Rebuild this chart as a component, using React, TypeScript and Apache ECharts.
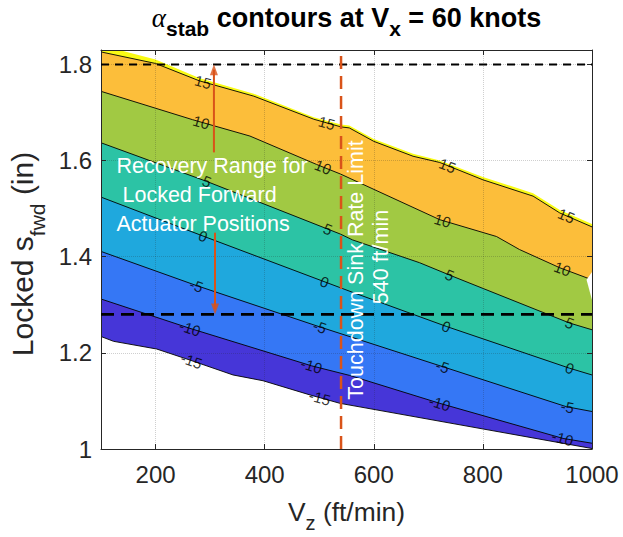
import React, { useEffect, useRef } from "react";
import * as echarts from "echarts";

const FONT = '"Liberation Sans", Arial, Helvetica, sans-serif';
const SERIF = '"Liberation Serif", "Times New Roman", serif';

// ---- axes ----
const xMin = 100;
const xMax = 1000;
const yMin = 1.0;
const yMax = 1.83;

// ---- contour boundaries (Vz ft/min, s_fwd in) ----
const edgeTop: number[][] = [[100, 1.84], [200, 1.81], [280, 1.772], [380, 1.739], [490, 1.69], [540, 1.675], [555, 1.673], [600, 1.645], [672, 1.614], [721, 1.6], [800, 1.566], [892, 1.532], [941, 1.497], [1000, 1.468]];
const c15: number[][] = [[100, 1.826], [200, 1.802], [280, 1.766], [380, 1.734], [490, 1.686], [540, 1.67], [555, 1.668], [600, 1.64], [672, 1.609], [721, 1.596], [800, 1.56], [892, 1.526], [941, 1.491], [1000, 1.462]];
const c10: number[][] = [[100, 1.744], [268, 1.685], [373, 1.651], [495, 1.592], [539, 1.572], [721, 1.477], [825, 1.442], [867, 1.415], [941, 1.377], [1000, 1.352]];
const c5: number[][] = [[100, 1.637], [293, 1.557], [539, 1.447], [561, 1.435], [684, 1.3875], [745, 1.359], [959, 1.262], [1000, 1.248]];
const c0: number[][] = [[100, 1.524], [287, 1.443], [507, 1.349], [561, 1.326], [733, 1.255], [959, 1.168], [1000, 1.154]];
const cm5: number[][] = [[100, 1.411], [275, 1.34], [501, 1.254], [727, 1.171], [953, 1.088], [1000, 1.078]];
const cm10: number[][] = [[100, 1.312], [263, 1.251], [486, 1.173], [556, 1.153], [721, 1.095], [947, 1.022], [1000, 1.012]];
const cm15: number[][] = [[100, 1.234], [123, 1.224], [202, 1.208], [263, 1.185], [342, 1.154], [397, 1.142], [483, 1.1125], [538, 1.095], [1000, 1.001]];
const notch: number[][] = [[1000, 1.368], [990, 1.352], [1000, 1.31]];

const contourValues = [15, 10, 5, 0, -5, -10, -15];
const contourLines = [c15, c10, c5, c0, cm5, cm10, cm15];
// fill below each boundary (top edge first)
const bandColors = ["#f9fb15", "#fcbe3a", "#a1c943", "#2cc3a5", "#1fa8dd", "#3577f5", "#4636d8", "#ffffff"];

// contour label positions (x along each contour)
const labelX15 = [287, 514, 735, 953];
const labelX10 = [284, 507, 726, 946];
const labelX5 = [294, 516, 739, 959];
const labelX0 = [287, 510, 733, 959];
const labelXm5 = [275, 501, 726, 955];
const labelXm10 = [263, 486, 721, 946];
const labelXm15 = [266, 501];
const labelXs = [labelX15, labelX10, labelX5, labelX0, labelXm5, labelXm10, labelXm15];

// reference lines / arrows
const refLinesY = [1.8, 1.28];
const sinkRateLimit = 540;
const arrowUp = [[307, 1.617], [307, 1.789]];
const arrowDown = [[309, 1.45], [309, 1.291]];

const ORANGE = "#d95319";

let measureCtx: CanvasRenderingContext2D | null = null;
function measure(text: string, size: number, weight = "normal", style = "normal", family = FONT) {
  if (!measureCtx) measureCtx = document.createElement("canvas").getContext("2d");
  if (!measureCtx) return text.length * size * 0.55;
  measureCtx.font = `${style} ${weight} ${size}px ${family}`;
  return measureCtx.measureText(text).width;
}

type Piece = { text: string; size: number; weight?: string; style?: string; family?: string; shift?: number; color?: string };
function rowPieces(pieces: Piece[], color: string) {
  const widths = pieces.map((p) => measure(p.text, p.size, p.weight || "normal", p.style || "normal", p.family || FONT));
  const total = widths.reduce((a, b) => a + b, 0);
  let x = -total / 2;
  return pieces.map((p, i) => {
    const k = p.family === SERIF ? 0.3375 : 0.3465;
    const el = {
      type: "text",
      x,
      y: (p.shift || 0) - k * p.size,
      style: {
        text: p.text,
        fontSize: p.size,
        fontWeight: p.weight || "normal",
        fontStyle: p.style || "normal",
        fontFamily: p.family || FONT,
        fill: p.color || color,
        textAlign: "left",
        textVerticalAlign: "middle",
      },
    };
    x += widths[i];
    return el;
  });
}

function yOnLine(line: number[][], x: number) {
  for (let i = 0; i < line.length - 1; i++) {
    const a = line[i];
    const b = line[i + 1];
    if (x >= a[0] && x <= b[0]) {
      const t = (x - a[0]) / (b[0] - a[0]);
      return { y: a[1] + t * (b[1] - a[1]), a, b };
    }
  }
  const a = line[line.length - 2];
  const b = line[line.length - 1];
  return { y: b[1], a, b };
}

function buildOption() {
  const fillLines = [edgeTop, ...contourLines];
  const fills = fillLines.map((line, i) => ({
    type: "line",
    data: line,
    symbol: "none",
    silent: true,
    z: 2 + i,
    lineStyle: { color: "#000", width: i === 0 ? 0 : 0.9, opacity: i === 0 ? 0 : 1 },
    areaStyle: { color: bandColors[i], opacity: 1, origin: "start" },
  }));

  const axisLineStyle = { color: "#262626", width: 1 };
  const grid = { left: 101, right: 31, top: 50, bottom: 88 };

  const xLabelFmt = (v: number) => (v % 200 === 0 ? String(v) : "");
  const yLabelFmt = (v: number) => (Math.abs(v * 5 - Math.round(v * 5)) < 1e-6 ? String(+v.toFixed(1)) : "");
  const split = { show: true, lineStyle: { type: "dotted", color: "rgba(38,38,38,0.22)", width: 1 } };

  const graphic: any[] = [];
  graphic.push({
    type: "group",
    x: 346.5,
    y: 27.5,
    z: 100,
    children: rowPieces(
      [
        { text: "α", size: 27, style: "italic", family: SERIF },
        { text: "stab", size: 21, weight: "bold", shift: 8.5 },
        { text: " contours at V", size: 27, weight: "bold" },
        { text: "x", size: 21, weight: "bold", shift: 8.5 },
        { text: " = 60 knots", size: 27, weight: "bold" },
      ],
      "#000"
    ),
  });
  graphic.push({
    type: "group",
    x: 346.5,
    y: 521,
    z: 100,
    children: rowPieces(
      [
        { text: "V", size: 26.4 },
        { text: "z", size: 20, shift: 9 },
        { text: " (ft/min)", size: 26.4 },
      ],
      "#262626"
    ),
  });
  graphic.push({
    type: "group",
    x: 33.3,
    y: 254,
    rotation: Math.PI / 2,
    z: 100,
    children: rowPieces(
      [
        { text: "Locked s", size: 30 },
        { text: "fwd", size: 21, shift: 11 },
        { text: " (in)", size: 30 },
      ],
      "#262626"
    ),
  });
  const recLines = ["Recovery Range for", " Locked Forward", "Actuator Positions"];
  const recBase = [173, 202, 231];
  recLines.forEach((t, i) => {
    graphic.push({
      type: "text",
      x: 116.5,
      y: recBase[i] - 0.3465 * 21.5,
      z: 100,
      style: { text: t, fontSize: 21.5, fontFamily: FONT, fill: "#fff", textAlign: "left", textVerticalAlign: "middle" },
    });
  });
  graphic.push({
    type: "text",
    x: 363.5 - 0.3465 * 21.5,
    y: 270,
    rotation: Math.PI / 2,
    z: 100,
    style: { text: "Touchdown Sink Rate Limit", fontSize: 21.5, fontFamily: FONT, fill: "#fff", textAlign: "center", textVerticalAlign: "middle" },
  });
  graphic.push({
    type: "text",
    x: 388.3 - 0.3465 * 21.5,
    y: 257,
    rotation: Math.PI / 2,
    z: 100,
    style: { text: "540 ft/min", fontSize: 21.5, fontFamily: FONT, fill: "#fff", textAlign: "center", textVerticalAlign: "middle" },
  });

  return {
    animation: false,
    backgroundColor: "#fff",
    grid,
    graphic,
    xAxis: [
      {
        type: "value",
        min: xMin,
        max: xMax,
        splitNumber: 5,
        position: "bottom",
        z: 10,
        axisLine: { show: true, lineStyle: axisLineStyle },
        axisTick: { show: true, inside: true, length: 5, lineStyle: axisLineStyle },
        axisLabel: { show: true, fontSize: 24, fontFamily: FONT, color: "#262626", margin: 13, showMinLabel: false, formatter: xLabelFmt },
        splitLine: split,
      },
      {
        type: "value",
        min: xMin,
        max: xMax,
        splitNumber: 5,
        position: "top",
        z: 10,
        axisLine: { show: true, lineStyle: axisLineStyle },
        axisTick: { show: true, inside: true, length: 5, lineStyle: axisLineStyle },
        axisLabel: { show: false },
        splitLine: { show: false },
      },
    ],
    yAxis: [
      {
        type: "value",
        min: yMin,
        max: yMax,
        interval: 0.2,
        position: "left",
        z: 10,
        axisLine: { show: true, lineStyle: axisLineStyle },
        axisTick: { show: true, inside: true, length: 5, lineStyle: axisLineStyle },
        axisLabel: { show: true, fontSize: 24, fontFamily: FONT, color: "#262626", margin: 9, showMaxLabel: false, formatter: yLabelFmt },
        splitLine: split,
      },
      {
        type: "value",
        min: yMin,
        max: yMax,
        interval: 0.2,
        position: "right",
        z: 10,
        axisLine: { show: true, lineStyle: axisLineStyle },
        axisTick: { show: true, inside: true, length: 5, lineStyle: axisLineStyle },
        axisLabel: { show: false },
        splitLine: { show: false },
      },
    ],
    series: [
      ...fills,
      {
        type: "custom",
        silent: true,
        z: 11,
        data: [notch[0]],
        renderItem: (_p: any, api: any) => ({
          type: "polygon",
          shape: { points: notch.map((p) => api.coord(p)) },
          style: { fill: "#fff" },
        }),
      },
      ...refLinesY.map((yv, i) => ({
        type: "line",
        silent: true,
        symbol: "none",
        z: 15,
        data: [[xMin, yv], [xMax, yv]],
        lineStyle: { color: "#000", width: i === 0 ? 2 : 2.6, type: i === 0 ? [8, 6] : [13, 7] },
      })),
      {
        type: "line",
        silent: true,
        symbol: "none",
        z: 16,
        data: [[sinkRateLimit, yMin], [sinkRateLimit, yMax]],
        lineStyle: { color: ORANGE, width: 2.5, type: [13, 7] },
      },
      ...[arrowUp, arrowDown].map((arr) => ({
        type: "line",
        silent: true,
        symbol: "none",
        z: 17,
        data: arr,
        lineStyle: { color: ORANGE, width: 2, type: "solid" },
      })),
      {
        type: "scatter",
        silent: true,
        z: 18,
        symbol: "triangle",
        symbolSize: [8, 11],
        itemStyle: { color: ORANGE },
        data: [
          { value: arrowUp[1], symbolRotate: 0 },
          { value: arrowDown[1], symbolRotate: 180 },
        ],
      },
      {
        id: "clabels",
        type: "scatter",
        silent: true,
        z: 20,
        symbolSize: 1,
        itemStyle: { color: "rgba(0,0,0,0)" },
        label: {
          show: true,
          position: "inside",
          fontSize: 15,
          fontFamily: FONT,
          color: "#000",
          formatter: (p: any) => String(p.value[2]),
        },
        data: [],
      },
    ],
  };
}

export default function App() {
  const ref = useRef<HTMLDivElement>(null);
  useEffect(() => {
    if (!ref.current) return;
    const chart = echarts.init(ref.current, null, { renderer: "svg" });
    chart.setOption(buildOption() as any);
    const labelData: any[] = [];
    contourLines.forEach((line, li) => {
      labelXs[li].forEach((x) => {
        const { y, a, b } = yOnLine(line, x);
        const p1 = chart.convertToPixel({ gridIndex: 0 }, a) as number[];
        const p2 = chart.convertToPixel({ gridIndex: 0 }, b) as number[];
        const rot = (-Math.atan2(p2[1] - p1[1], p2[0] - p1[0]) * 180) / Math.PI;
        labelData.push({ value: [x, y, contourValues[li]], label: { rotate: rot } });
      });
    });
    chart.setOption({ series: [{ id: "clabels", data: labelData }] } as any);
    return () => chart.dispose();
  }, []);
  return <div ref={ref} style={{ position: "fixed", left: 0, top: 0, width: 623, height: 537, background: "#fff" }} />;
}
